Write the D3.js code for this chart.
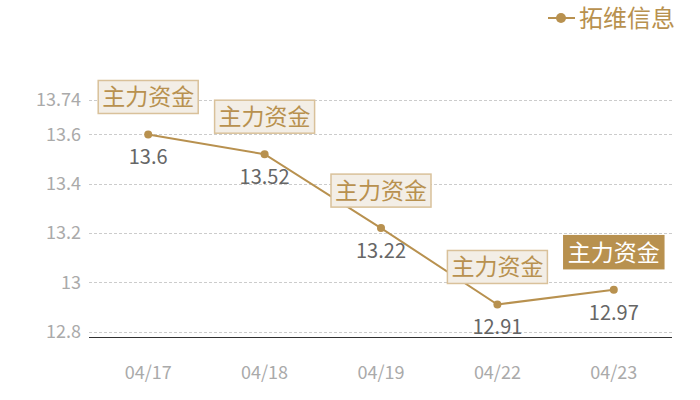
<!DOCTYPE html>
<html>
<head>
<meta charset="utf-8">
<script src="https://cdn.jsdelivr.net/npm/d3@7"></script>
<style>
  body { margin: 0; background: #fff; }
  svg { font-family: "Noto Sans CJK SC", "Noto Sans", sans-serif; }
</style>
</head>
<body>
<script>
const dates = ["04/17", "04/18", "04/19", "04/22", "04/23"];
const prices = [13.6, 13.52, 13.22, 12.91, 12.97];
const yTicks = [12.8, 13, 13.2, 13.4, 13.6, 13.74];
const seriesName = "拓维信息";
const markLabel = "主力资金";

const width = 700;
const height = 400;
const gold = "#b8914f";

const xScale = d3.scalePoint()
                  .domain(dates)
                  .range([90, 672])
                  .padding(0.5);

const yScale = d3.scaleLinear()
                  .domain([12.78, 13.74])
                  .range([336.5, 100]);

const svg = d3.select("body")
          .append("svg")
            .attr("width", width)
            .attr("height", height);

// grid lines
svg.selectAll(".grid")
 .data(yTicks)
 .enter()
 .append("line")
   .attr("x1", 89)
   .attr("x2", 672)
   .attr("y1", function(d) { return Math.round(yScale(d)) + 0.5; })
   .attr("y2", function(d) { return Math.round(yScale(d)) + 0.5; })
   .attr("stroke", "#ccc")
   .attr("stroke-dasharray", "3,2")
   .attr("stroke-width", 1);

// y tick labels
svg.selectAll(".ytick")
 .data(yTicks)
 .enter()
 .append("text")
   .attr("x", 81)
   .attr("y", function(d) { return yScale(d); })
   .attr("dy", "0.35em")
   .attr("text-anchor", "end")
   .attr("fill", "#aaa")
   .style("font-size", "18px")
   .text(function(d) { return d; });

// x axis line
svg.append("line")
  .attr("x1", 89)
  .attr("x2", 672)
  .attr("y1", 337.5)
  .attr("y2", 337.5)
  .attr("stroke", "#333")
  .attr("stroke-width", 1);

// x tick labels
svg.selectAll(".xtick")
 .data(dates)
 .enter()
 .append("text")
   .attr("x", function(d) { return xScale(d); })
   .attr("y", 379)
   .attr("text-anchor", "middle")
   .attr("fill", "#aaa")
   .style("font-size", "18px")
   .text(function(d) { return d; });

// line
const line = d3.line()
  .x(function(d, i) { return xScale(dates[i]); })
  .y(function(d) { return yScale(d); });

svg.append("path")
  .datum(prices)
  .attr("d", line)
  .attr("fill", "none")
  .attr("stroke", gold)
  .attr("stroke-width", 2);

svg.selectAll(".pt")
 .data(prices)
 .enter()
 .append("circle")
   .attr("cx", function(d, i) { return xScale(dates[i]); })
   .attr("cy", function(d) { return yScale(d); })
   .attr("r", 4)
   .attr("fill", gold);

// value labels
svg.selectAll(".val")
 .data(prices)
 .enter()
 .append("text")
   .attr("x", function(d, i) { return xScale(dates[i]); })
   .attr("y", function(d) { return yScale(d) + 30; })
   .attr("text-anchor", "middle")
   .attr("fill", "#666")
   .style("font-size", "20px")
   .text(function(d) { return d; });

// annotation boxes
const marks = svg.selectAll(".mark")
 .data(prices)
 .enter()
 .append("g")
   .attr("transform", function(d, i) {
     return "translate(" + xScale(dates[i]) + "," + (yScale(d) - 21) + ")";
   });

marks.append("rect")
  .attr("x", -50)
  .attr("y", -33)
  .attr("width", 100)
  .attr("height", 33)
  .attr("fill", function(d, i) { return i === prices.length - 1 ? gold : "#f3eee6"; })
  .attr("stroke", function(d, i) { return i === prices.length - 1 ? gold : "#d9c19a"; })
  .attr("stroke-width", 1.5);

marks.append("text")
  .attr("x", 0)
  .attr("y", -8)
  .attr("text-anchor", "middle")
  .attr("fill", function(d, i) { return i === prices.length - 1 ? "#fff" : gold; })
  .style("font-size", "23px")
  .text(markLabel);

// legend
svg.append("line")
  .attr("x1", 548)
  .attr("x2", 575)
  .attr("y1", 18)
  .attr("y2", 18)
  .attr("stroke", gold)
  .attr("stroke-width", 2);

svg.append("circle")
  .attr("cx", 561)
  .attr("cy", 18)
  .attr("r", 5)
  .attr("fill", gold);

svg.append("text")
  .attr("x", 579)
  .attr("y", 27)
  .attr("fill", gold)
  .style("font-size", "24px")
  .text(seriesName);
</script>
</body>
</html>
